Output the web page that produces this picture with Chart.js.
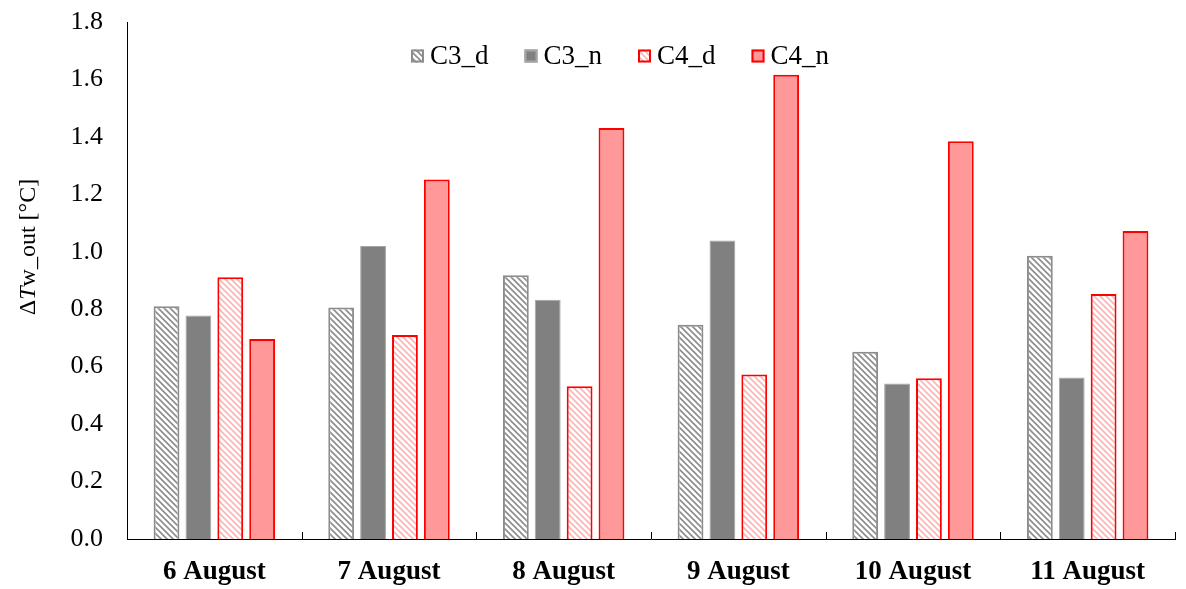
<!DOCTYPE html>
<html>
<head>
<meta charset="utf-8">
<script src="https://cdn.jsdelivr.net/npm/chart.js@4"></script>
<style>
  html, body { margin: 0; padding: 0; background: #fff; }
  #wrap { width: 1186px; height: 589px; }
</style>
</head>
<body>
<div id="wrap"><canvas id="chart"></canvas></div>
<script>
const categories = ['6 August', '7 August', '8 August', '9 August', '10 August', '11 August'];
const c3d = [0.81, 0.806, 0.918, 0.746, 0.652, 0.986];
const c3n = [0.778, 1.02, 0.833, 1.039, 0.541, 0.562];
const c4d = [0.911, 0.71, 0.532, 0.573, 0.56, 0.853];
const c4n = [0.696, 1.252, 1.431, 1.616, 1.385, 1.072];
const yTicks = [0, 0.2, 0.4, 0.6, 0.8, 1.0, 1.2, 1.4, 1.6, 1.8];

const FONT = "'Liberation Serif', 'Times New Roman', serif";

// diagonal hatch fill ("\" direction)
function hatch(color) {
    const c = document.createElement('canvas');
    c.width = 6; c.height = 6;
    const g = c.getContext('2d');
    g.fillStyle = '#fff';
    g.fillRect(0, 0, 6, 6);
    g.strokeStyle = color;
    g.lineWidth = 1.6;
    g.beginPath();
    g.moveTo(-1, -1); g.lineTo(7, 7);
    g.moveTo(-1, 5); g.lineTo(1, 7);
    g.moveTo(5, -1); g.lineTo(7, 1);
    g.stroke();
    return g.createPattern(c, 'repeat');
}

// inward tick marks between categories on the x axis
const catTicks = {
    id: 'catTicks',
    afterDraw(chart) {
        const x = chart.scales.x, area = chart.chartArea, ctx = chart.ctx;
        const step = x.width / categories.length;
        ctx.save();
        ctx.strokeStyle = '#000';
        ctx.lineWidth = 1;
        for (let i = 1; i <= categories.length; i++) {
            const px = Math.round(x.left + step * i) + 0.5;
            ctx.beginPath();
            ctx.moveTo(px, area.bottom);
            ctx.lineTo(px, area.bottom - 7);
            ctx.stroke();
        }
        ctx.restore();
    }
};

// y title with italic T
const yTitle = {
    id: 'yTitle',
    afterDraw(chart) {
        const ctx = chart.ctx;
        const parts = [['\u0394', 'normal'], ['T', 'italic'], ['w_out [\u00B0C]', 'normal']];
        ctx.save();
        ctx.translate(29, 247);
        ctx.rotate(-Math.PI / 2);
        ctx.fillStyle = '#000';
        ctx.textBaseline = 'middle';
        let total = 0;
        parts.forEach(p => { ctx.font = p[1] + ' 24px ' + FONT; total += ctx.measureText(p[0]).width; });
        let xPos = -total / 2;
        parts.forEach(p => {
            ctx.font = p[1] + ' 24px ' + FONT;
            ctx.fillText(p[0], xPos, 0);
            xPos += ctx.measureText(p[0]).width;
        });
        ctx.restore();
    }
};

// legend drawn inside the plot, one row
const rowLegend = {
    id: 'rowLegend',
    afterDraw(chart) {
        const ctx = chart.ctx, area = chart.chartArea;
        const box = 13, gapText = 6, gapItem = 36;
        ctx.save();
        ctx.font = '27px ' + FONT;
        ctx.textBaseline = 'middle';
        const sets = chart.data.datasets;
        const widths = sets.map(d => box + gapText + ctx.measureText(d.label).width);
        const total = widths.reduce((a, b) => a + b, 0) + gapItem * (sets.length - 1);
        let x = (area.left + area.right) / 2 - 31 - total / 2;
        const y = area.top + 34;
        sets.forEach((d, i) => {
            ctx.fillStyle = d.backgroundColor;
            ctx.fillRect(x, y - box / 2, box, box);
            ctx.strokeStyle = d.borderColor;
            ctx.lineWidth = 2;
            ctx.strokeRect(x + 1, y - box / 2 + 1, box - 2, box - 2);
            ctx.fillStyle = '#000';
            ctx.fillText(d.label, x + box + gapText, y + 1);
            x += widths[i] + gapItem;
        });
        ctx.restore();
    }
};

const ctx = document.getElementById('chart');
new Chart(ctx, {
    type: 'bar',
    data: {
        labels: categories,
        datasets: [
            { label: 'C3_d', data: c3d, backgroundColor: hatch('#8c8c8c'), borderColor: '#8c8c8c', borderWidth: 2 },
            { label: 'C3_n', data: c3n, backgroundColor: '#808080', borderColor: '#a6a6a6', borderWidth: 1 },
            { label: 'C4_d', data: c4d, backgroundColor: hatch('#ffb3b3'), borderColor: '#ff0000', borderWidth: 2 },
            { label: 'C4_n', data: c4n, backgroundColor: '#ff9999', borderColor: '#ff0000', borderWidth: 2 }
        ]
    },
    options: {
        responsive: true,
        maintainAspectRatio: false,
        animation: false,
        layout: { padding: { left: 0, right: 11, top: 22, bottom: 0 } },
        datasets: { bar: { categoryPercentage: 0.73, barPercentage: 0.81 } },
        plugins: {
            legend: { display: false },
            tooltip: { enabled: false }
        },
        scales: {
            x: {
                afterFit(axis) { axis.height = 50; axis.paddingLeft = 0; axis.paddingRight = 0; },
                grid: { display: false, drawTicks: false },
                border: { color: '#000', width: 1 },
                ticks: {
                    font: { family: FONT, size: 27, weight: 'bold' },
                    color: '#000',
                    padding: 17
                }
            },
            y: {
                min: 0,
                max: 1.8,
                afterFit(axis) { axis.width = 127; axis.paddingTop = 0; axis.paddingBottom = 0; },
                afterBuildTicks(axis) { axis.ticks = yTicks.map(v => ({ value: v })); },
                grid: { display: false, drawTicks: false },
                border: { color: '#000', width: 1 },
                ticks: {
                    font: { family: FONT, size: 26 },
                    color: '#000',
                    padding: 24,
                    callback: v => v.toFixed(1)
                }
            }
        }
    },
    plugins: [catTicks, yTitle, rowLegend]
});
</script>
</body>
</html>
